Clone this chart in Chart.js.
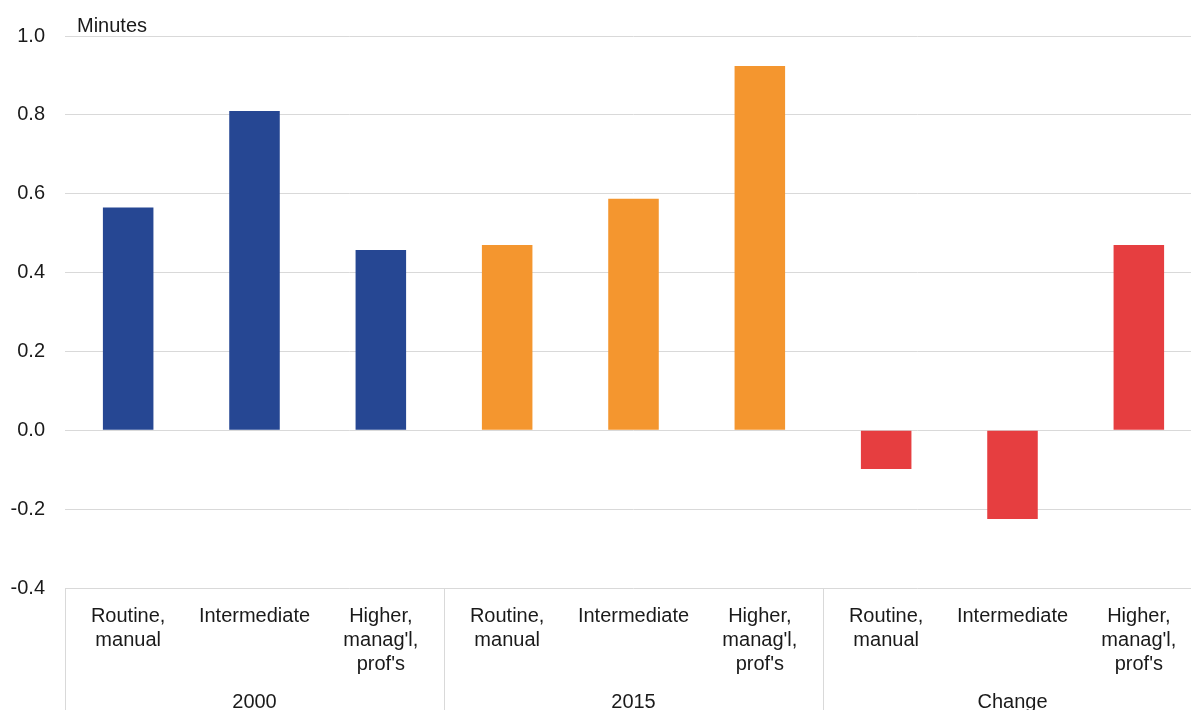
<!DOCTYPE html>
<html>
<head>
<meta charset="utf-8">
<script src="https://cdn.jsdelivr.net/npm/chart.js@4/dist/chart.umd.min.js"></script>
<style>
  html, body { margin: 0; padding: 0; background: #fff; overflow: hidden; width: 1191px; height: 710px; }
  #wrap { position: absolute; left: 0; top: 0; width: 1203px; height: 722px; }
  canvas { display: block; }
</style>
</head>
<body>
<div id="wrap"><canvas id="c" width="1203" height="722"></canvas></div>
<script>
const groups = ["2000", "2015", "Change"];
const categoryLabels = [["Routine,", "manual"], ["Intermediate"], ["Higher,", "manag'l,", "prof's"]];
const values2000 = [0.565, 0.81, 0.457];
const values2015 = [0.47, 0.587, 0.924];
const valuesChange = [-0.098, -0.225, 0.47];
const groupColors = ["#264793", "#f4962f", "#e63e40"];
const yTicks = [-0.4, -0.2, 0.0, 0.2, 0.4, 0.6, 0.8, 1.0];
const unitLabel = "Minutes";

const groupValues = [values2000, values2015, valuesChange];
const labels = [];
const data = [];
const colors = [];
groupValues.forEach((vals, g) => {
  vals.forEach((v, i) => {
    labels.push(categoryLabels[i]);
    data.push(v);
    colors.push(groupColors[g]);
  });
});

const FONT = "'Liberation Sans', Arial, sans-serif";
const TEXT = "#1a1a1a";

const groupPlugin = {
  id: 'groups',
  afterDraw(chart) {
    const ctx = chart.ctx;
    const area = chart.chartArea;
    const n = categoryLabels.length;
    const step = (area.right - area.left) / labels.length;
    ctx.save();
    ctx.strokeStyle = "#d9d9d9";
    ctx.lineWidth = 1;
    for (let g = 0; g <= groups.length; g++) {
      const x = Math.round(area.left + g * n * step) + 0.5;
      ctx.beginPath();
      ctx.moveTo(x, area.bottom);
      ctx.lineTo(x, chart.height);
      ctx.stroke();
    }
    ctx.fillStyle = TEXT;
    ctx.font = "20px " + FONT;
    ctx.textAlign = "center";
    ctx.textBaseline = "alphabetic";
    groups.forEach((g, i) => {
      const x = area.left + (i * n + n / 2) * step;
      ctx.fillText(g, x, 708);
    });
    ctx.textAlign = "left";
    ctx.fillText(unitLabel, 77, 32);
    ctx.restore();
  }
};

new Chart(document.getElementById('c'), {
  type: 'bar',
  data: {
    labels: labels,
    datasets: [{
      data: data,
      backgroundColor: colors,
      borderWidth: 0,
      barPercentage: 0.4,
      categoryPercentage: 1.0
    }]
  },
  options: {
    responsive: false,
    animation: false,
    devicePixelRatio: 1,
    layout: { padding: { top: 36, right: 1, left: 0, bottom: 0 } },
    plugins: { legend: { display: false }, tooltip: { enabled: false } },
    scales: {
      x: {
        grid: { display: false, drawTicks: false },
        border: { display: false },
        ticks: {
          color: TEXT,
          font: { family: FONT, size: 20, lineHeight: 1.18 },
          padding: 17,
          maxRotation: 0,
          autoSkip: false
        },
        afterFit(scale) { scale.height = 134; }
      },
      y: {
        min: -0.4,
        max: 1.0,
        afterBuildTicks(scale) { scale.ticks = yTicks.map(v => ({ value: v })); },
        grid: { color: "#d9d9d9", lineWidth: 1, drawTicks: false },
        border: { display: false },
        ticks: {
          color: TEXT,
          font: { family: FONT, size: 20 },
          padding: 20,
          callback: (v) => Number(v).toFixed(1)
        },
        afterFit(scale) { scale.width = 65; }
      }
    }
  },
  plugins: [groupPlugin]
});
</script>
</body>
</html>
